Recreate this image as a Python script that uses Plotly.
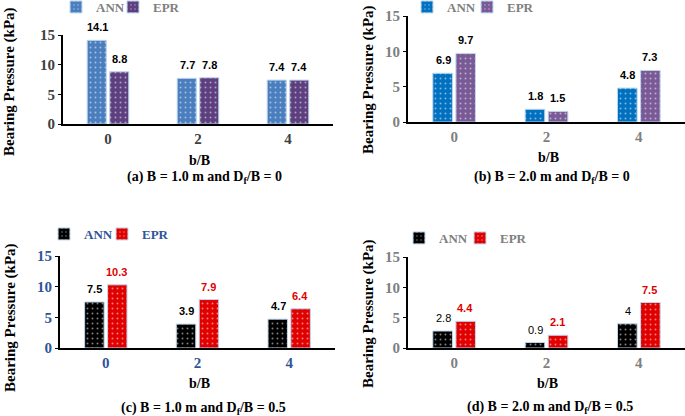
import plotly.graph_objects as go

categories = ["0", "2", "4"]
series_names = ["ANN", "EPR"]

a_ann = [14.1, 7.7, 7.4]
a_epr = [8.8, 7.8, 7.4]
b_ann = [6.9, 1.8, 4.8]
b_epr = [9.7, 1.5, 7.3]
c_ann = [7.5, 3.9, 4.7]
c_epr = [10.3, 7.9, 6.4]
d_ann = [2.8, 0.9, 4.0]
d_epr = [4.4, 2.1, 7.5]

y_ticks = [0, 5, 10, 15]
captions = [
    "(a) B = 1.0 m and D<sub>f</sub>/B = 0",
    "(b) B = 2.0 m and D<sub>f</sub>/B = 0",
    "(c) B = 1.0 m and D<sub>f</sub>/B = 0.5",
    "(d) B = 2.0 m and D<sub>f</sub>/B = 0.5",
]
y_title = "Bearing Pressure (kPa)"
x_title = "b/B"

W, H = 685, 416
def px(x):
    return x / W
def py(y):
    return (H - y) / H

serif = "Liberation Serif, Times New Roman, serif"
sans = "Liberation Sans, Arial, sans-serif"
GRAY = "#7F7F7F"
BLUE_T = "#2F5597"

panels = [
    dict(ann=a_ann, epr=a_epr, cols=("#4A7EBE", "#5D3F7F"),
         xdom=(63, 333), ydom=(124, 35), tickcol="#404040", legcol=GRAY,
         lab_cols=("#000000", "#000000"), lab_bold=(True, True),
         ytitle=(10, 82), xt=(200, 160), cap=(204, 177),
         leg=((56, 113), 7)),
    dict(ann=b_ann, epr=b_epr, cols=("#0070C0", "#7A5A96"),
         xdom=(408, 685), ydom=(122, 16), tickcol=GRAY, legcol=GRAY,
         lab_cols=("#000000", "#000000"), lab_bold=(True, True),
         ytitle=(368, 80), xt=(548, 157), cap=(552, 177),
         leg=((407, 467), 7)),
    dict(ann=c_ann, epr=c_epr, cols=("#000000", "#E00000"),
         xdom=(60, 335), ydom=(348, 256), tickcol=BLUE_T, legcol=BLUE_T,
         lab_cols=("#000000", "#E00000"), lab_bold=(True, True),
         ytitle=(10, 318), xt=(199, 383), cap=(203, 408),
         leg=((44, 102), 234)),
    dict(ann=d_ann, epr=d_epr, cols=("#000000", "#E00000"),
         xdom=(408, 685), ydom=(348, 257), tickcol=GRAY, legcol=GRAY,
         lab_cols=("#000000", "#E00000"), lab_bold=(False, True),
         ytitle=(368, 314), xt=(547, 383), cap=(550, 407),
         leg=((399, 460), 238)),
]

fig = go.Figure()
annotations = []
layout = {}
leg_n = 0

for i, p in enumerate(panels, start=1):
    xa = "x" if i == 1 else f"x{i}"
    ya = "y" if i == 1 else f"y{i}"
    for k, (name, vals) in enumerate(zip(series_names, (p["ann"], p["epr"]))):
        leg_n += 1
        lg = "legend" if leg_n == 1 else f"legend{leg_n}"
        fig.add_trace(go.Bar(
            x=categories, y=vals, name=name, xaxis=xa, yaxis=ya, legend=lg,
            marker=dict(color=p["cols"][k],
                        line=dict(color="#BDD7EE", width=1),
                        pattern=dict(shape=".", fgcolor="white", bgcolor=p["cols"][k],
                                     size=5, solidity=0.12, fillmode="overlay")),
            hoverinfo="skip",
        ))
        layout[lg] = dict(
            orientation="h", x=px(p["leg"][0][k]), y=py(p["leg"][1]),
            xref="container", yref="container",
            xanchor="left", yanchor="middle",
            bgcolor="rgba(0,0,0,0)",
            font=dict(family=serif, size=13, color=p["legcol"], weight="bold"),
        )
        for j, v in enumerate(vals):
            annotations.append(dict(
                x=j, y=v, xref=xa, yref=ya, text=f"{v:g}", showarrow=False,
                xshift=(-11 if k == 0 else 11), yshift=13, yanchor="middle",
                font=dict(family=sans, size=11, color=p["lab_cols"][k],
                          weight=("bold" if p["lab_bold"][k] else "normal")),
            ))
    axkey_x = "xaxis" if i == 1 else f"xaxis{i}"
    axkey_y = "yaxis" if i == 1 else f"yaxis{i}"
    layout[axkey_x] = dict(
        domain=[px(p["xdom"][0]), px(p["xdom"][1])], anchor=ya,
        type="category", showline=True, linecolor="black", linewidth=2,
        showgrid=False, ticks="", zeroline=False, automargin=False,
        tickfont=dict(family=serif, size=15, color=p["tickcol"], weight="bold"),
    )
    layout[axkey_y] = dict(
        domain=[py(p["ydom"][0]), py(p["ydom"][1])], anchor=xa,
        range=[0, 15], tickvals=y_ticks, showline=True, linecolor="black",
        linewidth=2, showgrid=False, zeroline=False, ticks="outside",
        ticklen=3, tickcolor="black", automargin=False,
        tickfont=dict(family=serif, size=15, color=p["tickcol"], weight="bold"),
    )
    annotations.append(dict(
        x=px(p["ytitle"][0]), y=py(p["ytitle"][1]), xref="paper", yref="paper",
        text=y_title, textangle=-90, showarrow=False,
        xanchor="center", yanchor="middle",
        font=dict(family=serif, size=15, color="black", weight="bold"),
    ))
    annotations.append(dict(
        x=px(p["xt"][0]), y=py(p["xt"][1]), xref="paper", yref="paper",
        text=x_title, showarrow=False, xanchor="center", yanchor="middle",
        font=dict(family=serif, size=14, color="black", weight="bold"),
    ))
    annotations.append(dict(
        x=px(p["cap"][0]), y=py(p["cap"][1]), xref="paper", yref="paper",
        text=captions[i - 1], showarrow=False, xanchor="center", yanchor="middle",
        font=dict(family=serif, size=14, color="black", weight="bold"),
    ))

fig.update_layout(
    width=W, height=H, margin=dict(l=0, r=0, t=0, b=0, autoexpand=False),
    paper_bgcolor="white", plot_bgcolor="white",
    barmode="group", bargap=0.5, bargroupgap=0.15,
    annotations=annotations, showlegend=True,
    **layout,
)

fig.write_html("out.html", config={"displayModeBar": False},
               post_script="document.body.style.margin='0px';")
